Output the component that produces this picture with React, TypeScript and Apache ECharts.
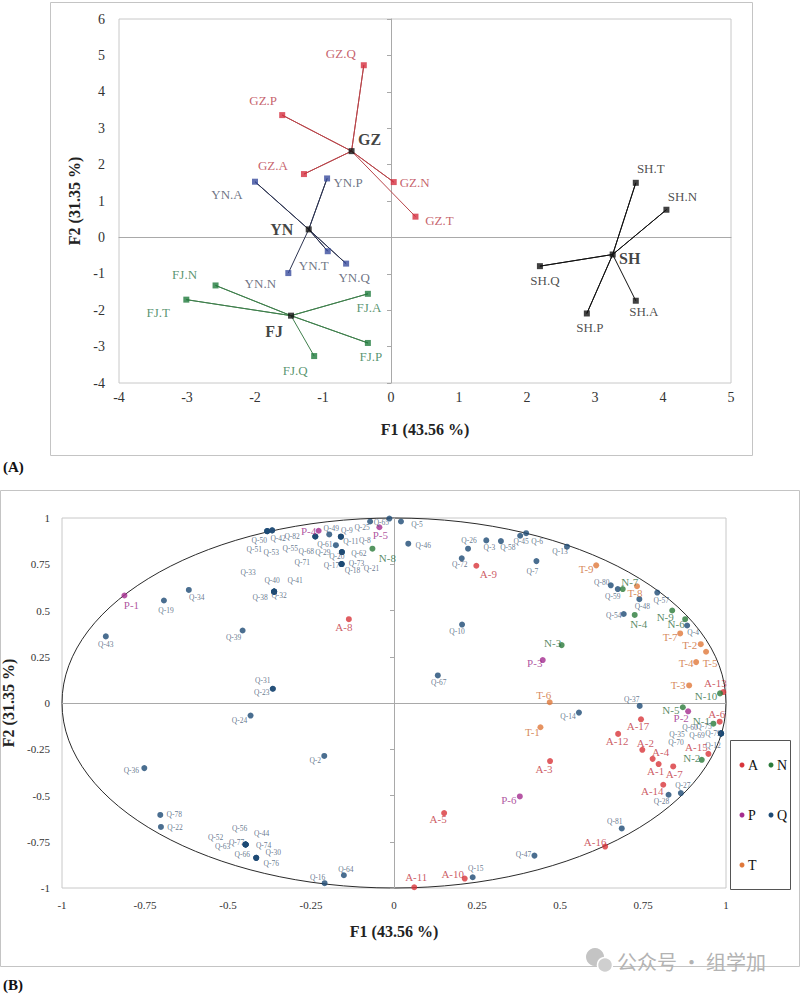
import { useEffect, useRef } from 'react';
import * as echarts from 'echarts';

const SERIF = "'Liberation Serif', 'Times New Roman', 'DejaVu Serif', serif";
const CJK = "'Noto Sans CJK SC', 'Noto Sans', sans-serif";

type Pt = [string, number, number];

// ---------- (A) group centroids and partial points ----------
const groupLabels = ['GZ', 'YN', 'FJ', 'SH'];
const groupCentroids: [number, number][] = [
  [-0.58, 2.37],
  [-1.21, 0.22],
  [-1.47, -2.15],
  [3.26, -0.47],
];
const gzPartials: Pt[] = [
  ['GZ.Q', -0.40, 4.73],
  ['GZ.P', -1.60, 3.36],
  ['GZ.A', -1.28, 1.74],
  ['GZ.N', 0.04, 1.52],
  ['GZ.T', 0.36, 0.57],
];
const ynPartials: Pt[] = [
  ['YN.A', -2.00, 1.53],
  ['YN.P', -0.94, 1.62],
  ['YN.T', -0.93, -0.38],
  ['YN.Q', -0.66, -0.72],
  ['YN.N', -1.51, -0.98],
];
const fjPartials: Pt[] = [
  ['FJ.N', -2.58, -1.32],
  ['FJ.T', -3.01, -1.71],
  ['FJ.A', -0.34, -1.55],
  ['FJ.P', -0.34, -2.90],
  ['FJ.Q', -1.13, -3.26],
];
const shPartials: Pt[] = [
  ['SH.T', 3.60, 1.50],
  ['SH.N', 4.05, 0.76],
  ['SH.Q', 2.19, -0.79],
  ['SH.P', 2.88, -2.09],
  ['SH.A', 3.60, -1.74],
];
const axisA = { xMin: -4, xMax: 5, yMin: -4, yMax: 6, step: 1 };

// ---------- (B) correlation circle of variables ----------
const varsA: Pt[] = [
  ['A-1', 0.797, -0.330], ['A-2', 0.748, -0.253], ['A-3', 0.470, -0.314],
  ['A-4', 0.779, -0.302], ['A-5', 0.151, -0.595], ['A-6', 0.981, -0.101],
  ['A-7', 0.841, -0.343], ['A-8', -0.136, 0.453], ['A-9', 0.248, 0.742],
  ['A-10', 0.213, -0.949], ['A-11', 0.061, -0.996], ['A-12', 0.675, -0.167],
  ['A-13', 0.992, 0.059], ['A-14', 0.811, -0.442], ['A-15', 0.947, -0.275],
  ['A-16', 0.636, -0.776], ['A-17', 0.744, -0.088],
];
const varsN: Pt[] = [
  ['N-1', 0.962, -0.112], ['N-2', 0.927, -0.307], ['N-3', 0.505, 0.313],
  ['N-4', 0.725, 0.476], ['N-5', 0.870, -0.023], ['N-6', 0.877, 0.453],
  ['N-7', 0.689, 0.616], ['N-8', -0.065, 0.834], ['N-9', 0.838, 0.500],
  ['N-10', 0.982, 0.052],
];
const varsP: Pt[] = [
  ['P-1', -0.812, 0.581], ['P-2', 0.886, -0.045], ['P-3', 0.448, 0.232],
  ['P-4', -0.227, 0.931], ['P-5', -0.044, 0.950], ['P-6', 0.379, -0.505],
];
const varsT: Pt[] = [
  ['T-1', 0.441, -0.131], ['T-2', 0.924, 0.318], ['T-3', 0.889, 0.095],
  ['T-4', 0.910, 0.221], ['T-5', 0.940, 0.277], ['T-6', 0.469, 0.004],
  ['T-7', 0.862, 0.376], ['T-8', 0.732, 0.631], ['T-9', 0.609, 0.744],
];
const varsQ: Pt[] = [
  ['Q-50', -0.382, 0.929], ['Q-51', -0.382, 0.929], ['Q-53', -0.382, 0.929],
  ['Q-42', -0.367, 0.933], ['Q-82', -0.367, 0.933],
  ['Q-55', -0.237, 0.900], ['Q-68', -0.237, 0.900], ['Q-71', -0.237, 0.900],
  ['Q-49', -0.195, 0.911],
  ['Q-9', -0.160, 0.899], ['Q-11', -0.160, 0.899], ['Q-8', -0.160, 0.899],
  ['Q-61', -0.175, 0.853],
  ['Q-29', -0.157, 0.816], ['Q-20', -0.157, 0.816], ['Q-62', -0.157, 0.816],
  ['Q-17', -0.158, 0.751], ['Q-73', -0.158, 0.751], ['Q-18', -0.158, 0.751], ['Q-21', -0.158, 0.751],
  ['Q-25', -0.072, 0.981], ['Q-65', -0.014, 0.997], ['Q-5', 0.021, 0.981], ['Q-46', 0.043, 0.861],
  ['Q-32', -0.361, 0.602], ['Q-38', -0.361, 0.602], ['Q-40', -0.361, 0.602],
  ['Q-41', -0.361, 0.602], ['Q-33', -0.361, 0.602],
  ['Q-19', -0.693, 0.554], ['Q-34', -0.618, 0.611], ['Q-43', -0.868, 0.360], ['Q-39', -0.456, 0.392],
  ['Q-23', -0.365, 0.077], ['Q-31', -0.365, 0.077],
  ['Q-24', -0.432, -0.068], ['Q-2', -0.210, -0.286], ['Q-36', -0.752, -0.352],
  ['Q-78', -0.704, -0.605], ['Q-22', -0.702, -0.670],
  ['Q-56', -0.447, -0.765], ['Q-44', -0.447, -0.765], ['Q-52', -0.447, -0.765],
  ['Q-63', -0.447, -0.765], ['Q-77', -0.447, -0.765], ['Q-74', -0.447, -0.765],
  ['Q-66', -0.415, -0.837], ['Q-30', -0.415, -0.837], ['Q-76', -0.415, -0.837],
  ['Q-64', -0.151, -0.931], ['Q-16', -0.209, -0.974],
  ['Q-26', 0.223, 0.834], ['Q-3', 0.278, 0.879], ['Q-58', 0.322, 0.875],
  ['Q-45', 0.380, 0.904], ['Q-6', 0.398, 0.918], ['Q-13', 0.521, 0.845],
  ['Q-72', 0.204, 0.782], ['Q-7', 0.429, 0.767],
  ['Q-80', 0.653, 0.636], ['Q-59', 0.674, 0.616], ['Q-48', 0.739, 0.561],
  ['Q-57', 0.793, 0.597], ['Q-54', 0.692, 0.481], ['Q-4', 0.883, 0.419],
  ['Q-10', 0.205, 0.424], ['Q-67', 0.132, 0.149], ['Q-37', 0.740, -0.016], ['Q-14', 0.557, -0.052],
  ['Q-60', 0.985, -0.165], ['Q-75', 0.985, -0.165], ['Q-35', 0.985, -0.165],
  ['Q-69', 0.985, -0.165], ['Q-70', 0.985, -0.165], ['Q-79', 0.985, -0.165], ['Q-12', 0.985, -0.165],
  ['Q-28', 0.827, -0.496], ['Q-27', 0.864, -0.487], ['Q-81', 0.686, -0.678],
  ['Q-47', 0.423, -0.825], ['Q-15', 0.237, -0.942],
];
const axisB = { min: -1, max: 1, step: 0.25 };

// label placement (pixel nudges from each marker's centre)
const nudgeA: Record<string, [number, number]> = {
  'GZ.Q': [-23, -12], 'GZ.P': [-19, -15], 'GZ.A': [-31, -9], 'GZ.N': [21, 0], 'GZ.T': [24, 4],
  'YN.A': [-28, 13], 'YN.P': [21, 4], 'YN.T': [-14, 14], 'YN.Q': [8, 14], 'YN.N': [-28, 10],
  'FJ.N': [-31, -11], 'FJ.T': [-28, 13], 'FJ.A': [1, 14], 'FJ.P': [3, 14], 'FJ.Q': [-19, 14],
  'SH.T': [15, -14], 'SH.N': [16, -13], 'SH.Q': [5, 14], 'SH.P': [3, 14], 'SH.A': [8, 11],
  GZ: [18, -12], YN: [-27, 0], FJ: [-17, 16], SH: [17, 4],
};
const nudgeB: Record<string, [number, number]> = {
  'A-1': [-3, 7], 'A-2': [3, -7], 'A-3': [-6, 8], 'A-4': [8, -7], 'A-5': [-6, 6], 'A-6': [-3, -8],
  'A-7': [1, 8], 'A-8': [-5, 8], 'A-9': [12, 8], 'A-10': [-12, -5], 'A-11': [2, -10], 'A-12': [-1, 7],
  'A-13': [-8, -9], 'A-14': [-11, 6], 'A-15': [-12, -7], 'A-16': [-10, -5], 'A-17': [-3, 7],
  'N-1': [-12, -3], 'N-2': [-10, -2], 'N-3': [-9, -2], 'N-4': [4, 9], 'N-5': [-12, 3],
  'N-6': [-9, 5], 'N-7': [7, -7], 'N-8': [15, 9], 'N-9': [-7, 6], 'N-10': [-14, 3],
  'P-1': [7, 9], 'P-2': [-7, 7], 'P-3': [-8, 3], 'P-4': [-10, 0], 'P-5': [1, 8], 'P-6': [-11, 4],
  'T-1': [-8, 5], 'T-2': [-11, 1], 'T-3': [-11, 0], 'T-4': [-10, 1], 'T-5': [4, 11],
  'T-6': [-6, -7], 'T-7': [-10, 4], 'T-8': [-2, 7], 'T-9': [-10, 4],
  'Q-50': [-8, 9], 'Q-42': [6, 8], 'Q-82': [20, 6], 'Q-51': [-13, 18], 'Q-53': [4, 21],
  'Q-55': [-25, 12], 'Q-68': [-9, 15], 'Q-71': [-13, 26], 'Q-49': [2, -6], 'Q-9': [6, -6],
  'Q-11': [10, 5], 'Q-8': [24, 4], 'Q-61': [-11, -1], 'Q-29': [-19, 0], 'Q-20': [-5, 4],
  'Q-62': [17, 1], 'Q-17': [-10, 1], 'Q-73': [15, -1], 'Q-18': [11, 6], 'Q-21': [30, 4],
  'Q-25': [-8, 6], 'Q-65': [-8, 4], 'Q-5': [16, 3], 'Q-46': [15, 2],
  'Q-33': [-26, -19], 'Q-40': [-2, -11], 'Q-41': [21, -11], 'Q-38': [-14, 6], 'Q-32': [5, 4],
  'Q-19': [2, 10], 'Q-34': [8, 8], 'Q-43': [0, 8], 'Q-39': [-9, 7],
  'Q-31': [-10, -8], 'Q-23': [-11, 4], 'Q-24': [-11, 5], 'Q-2': [-9, 5], 'Q-36': [-13, 2],
  'Q-78': [14, 0], 'Q-22': [14, 1],
  'Q-56': [-6, -16], 'Q-44': [16, -11], 'Q-52': [-30, -7], 'Q-63': [-23, 2], 'Q-77': [-9, -2], 'Q-74': [18, 1],
  'Q-66': [-14, -3], 'Q-30': [17, -5], 'Q-76': [15, 6],
  'Q-64': [2, -6], 'Q-16': [-7, -6],
  'Q-26': [1, -8], 'Q-3': [3, 7], 'Q-58': [7, 6], 'Q-45': [1, 6], 'Q-6': [11, 8], 'Q-13': [-7, 5],
  'Q-72': [-2, 6], 'Q-7': [-4, 10], 'Q-80': [-9, -3], 'Q-59': [-5, 7], 'Q-48': [3, 7],
  'Q-57': [4, 8], 'Q-54': [-10, 1], 'Q-4': [6, 7], 'Q-10': [-5, 7], 'Q-67': [1, 7],
  'Q-37': [-8, -6], 'Q-14': [-11, 4],
  'Q-60': [-31, -6], 'Q-75': [-17, -7], 'Q-35': [-44, 1], 'Q-69': [-24, 2], 'Q-70': [-45, 9],
  'Q-79': [-8, 0], 'Q-12': [-8, 12],
  'Q-28': [-7, 7], 'Q-27': [2, -8], 'Q-81': [-7, -7], 'Q-47': [-11, -1], 'Q-15': [3, -9],
};

const groupStyle = [
  { dot: '#d42e3e', line: '#b8454a', text: '#b83a48' },
  { dot: '#3a4c9e', line: '#2c3350', text: '#4a5266' },
  { dot: '#1f7a3c', line: '#3f7f4c', text: '#2f7a4c' },
  { dot: '#111111', line: '#111111', text: '#222222' },
];
const classStyle: Record<string, { dot: string; text: string; size: number }> = {
  A: { dot: '#d8343a', text: '#c0323c', size: 11 },
  N: { dot: '#2a7a3a', text: '#2e6c3c', size: 11 },
  P: { dot: '#a42c8e', text: '#9a2a88', size: 11 },
  Q: { dot: '#1d4a74', text: '#3e5672', size: 7.5 },
  T: { dot: '#e0783a', text: '#cc6a30', size: 11 },
};

function items(pts: Pt[], nudge: Record<string, [number, number]>) {
  return pts.map(([name, x, y]) => ({
    name,
    value: [x, y],
    label: { offset: nudge[name] || [0, 8] },
  }));
}

function star(center: [number, number], pts: Pt[]) {
  const out: [number, number][] = [];
  pts.forEach(([, x, y]) => {
    out.push(center, [x, y]);
  });
  return out;
}

export default function App() {
  const ref = useRef<HTMLDivElement>(null);

  useEffect(() => {
    if (!ref.current) return;
    const chart = echarts.init(ref.current, undefined, { renderer: 'svg' });

    const partialGroups = [gzPartials, ynPartials, fjPartials, shPartials];

    const seriesA: any[] = [];
    partialGroups.forEach((pts, gi) => {
      seriesA.push({
        type: 'line',
        xAxisIndex: 0,
        yAxisIndex: 0,
        data: star(groupCentroids[gi], pts),
        symbol: 'none',
        lineStyle: { color: groupStyle[gi].line, width: 1 },
        silent: true,
        z: 2,
      });
    });
    partialGroups.forEach((pts, gi) => {
      seriesA.push({
        type: 'scatter',
        xAxisIndex: 0,
        yAxisIndex: 0,
        data: items(pts, nudgeA),
        symbol: 'rect',
        symbolSize: 6,
        itemStyle: { color: groupStyle[gi].dot },
        label: {
          show: true,
          position: 'inside',
          formatter: '{b}',
          fontFamily: SERIF,
          fontSize: 13,
          color: groupStyle[gi].text,
        },
        z: 3,
      });
    });
    seriesA.push({
      type: 'scatter',
      xAxisIndex: 0,
      yAxisIndex: 0,
      data: groupLabels.map((g, i) => ({
        name: g,
        value: groupCentroids[i],
        label: { offset: nudgeA[g] },
      })),
      symbol: 'rect',
      symbolSize: 6,
      itemStyle: { color: '#111' },
      label: {
        show: true,
        position: 'inside',
        formatter: '{b}',
        fontFamily: SERIF,
        fontSize: 16,
        fontWeight: 'bold',
        color: '#111',
      },
      z: 4,
    });

    const classes: [string, Pt[]][] = [
      ['Q', varsQ],
      ['A', varsA],
      ['N', varsN],
      ['P', varsP],
      ['T', varsT],
    ];
    const seriesB = classes.map(([cls, pts]) => ({
      type: 'scatter',
      name: cls,
      xAxisIndex: 2,
      yAxisIndex: 2,
      data: items(pts, nudgeB),
      symbol: 'circle',
      symbolSize: 6,
      itemStyle: { color: classStyle[cls].dot },
      label: {
        show: true,
        position: 'inside',
        formatter: '{b}',
        fontFamily: SERIF,
        fontSize: classStyle[cls].size,
        color: classStyle[cls].text,
      },
      z: 3,
    }));

    const labelAxis = (grid: number, min: number, max: number, step: number, fs: number, margin: number, name: string, gap: number, dim: 'x' | 'y') => ({
      gridIndex: grid,
      type: 'value',
      min,
      max,
      interval: step,
      position: dim === 'x' ? 'bottom' : 'left',
      axisLine: { show: false, onZero: false },
      axisTick: { show: false },
      splitLine: { show: false },
      axisLabel: { fontFamily: SERIF, fontSize: fs, color: '#333', margin },
      name,
      nameLocation: 'middle',
      nameGap: gap,
      nameRotate: dim === 'y' ? 90 : 0,
      nameTextStyle: { fontFamily: SERIF, fontSize: 16, fontWeight: 'bold', color: '#222' },
    });
    const zeroAxis = (grid: number, min: number, max: number, step: number, dim: 'x' | 'y') => ({
      gridIndex: grid,
      type: 'value',
      min,
      max,
      interval: step,
      position: dim === 'x' ? 'bottom' : 'left',
      axisLine: { show: true, onZero: true, lineStyle: { color: '#a9a9a9', width: 1 } },
      axisTick: dim === 'y' ? { show: true, length: 4, lineStyle: { color: '#a9a9a9' } } : { show: false },
      axisLabel: { show: false },
      splitLine: { show: false },
    });

    const legendEntries: [string, number, number][] = [
      ['A', 742, 765],
      ['N', 771, 765],
      ['P', 742, 815],
      ['Q', 771, 815],
      ['T', 742, 865],
    ];

    const staticGraphics: any[] = [
      { type: 'rect', shape: { x: 50.5, y: 2.5, width: 702, height: 453 }, style: { fill: 'none', stroke: '#c4c4c4', lineWidth: 1 }, silent: true },
      { type: 'rect', shape: { x: 0.5, y: 490.5, width: 799, height: 476 }, style: { fill: 'none', stroke: '#c4c4c4', lineWidth: 1 }, silent: true },
      { type: 'text', x: 3, y: 467, style: { text: '(A)', fontFamily: SERIF, fontSize: 15, fontWeight: 'bold', fill: '#111', verticalAlign: 'middle' } },
      { type: 'text', x: 3, y: 985, style: { text: '(B)', fontFamily: SERIF, fontSize: 15, fontWeight: 'bold', fill: '#111', verticalAlign: 'middle' } },
      { type: 'rect', shape: { x: 730.5, y: 740.5, width: 60, height: 149 }, style: { fill: '#fff', stroke: '#555', lineWidth: 1 }, z: 10 },
      ...legendEntries.flatMap(([cls, x, y]) => [
        { type: 'circle', shape: { cx: x, cy: y, r: 2.5 }, style: { fill: classStyle[cls].dot }, z: 11 },
        { type: 'text', x: x + 6, y, style: { text: cls, fontFamily: SERIF, fontSize: 14, fill: '#111', verticalAlign: 'middle' }, z: 11 },
      ]),
      // account watermark
      { type: 'circle', shape: { cx: 595, cy: 957, r: 9 }, style: { fill: '#c4c4c4' }, z: 10 },
      { type: 'circle', shape: { cx: 605, cy: 965, r: 7.5 }, style: { fill: '#cfcfcf', stroke: '#fff', lineWidth: 1.5 }, z: 11 },
      { type: 'text', x: 617, y: 961, style: { text: '公众号 · 组学加', fontFamily: CJK, fontSize: 20, fill: '#b3b3b3', verticalAlign: 'middle' }, z: 11 },
    ];

    chart.setOption({
      animation: false,
      backgroundColor: '#ffffff',
      textStyle: { fontFamily: SERIF },
      grid: [
        { left: 119, top: 19, width: 612, height: 364, show: true, borderColor: '#c8c8c8', borderWidth: 1, backgroundColor: 'transparent', outerBoundsMode: 'none' },
        { left: 62, top: 518, width: 664, height: 370, show: true, borderColor: '#c8c8c8', borderWidth: 1, backgroundColor: 'transparent', outerBoundsMode: 'none' },
      ],
      xAxis: [
        labelAxis(0, axisA.xMin, axisA.xMax, axisA.step, 14, 7, 'F1 (43.56 %)', 38, 'x'),
        zeroAxis(0, axisA.xMin, axisA.xMax, axisA.step, 'x'),
        labelAxis(1, axisB.min, axisB.max, axisB.step, 11, 11, 'F1 (43.56 %)', 35, 'x'),
        zeroAxis(1, axisB.min, axisB.max, axisB.step, 'x'),
      ],
      yAxis: [
        labelAxis(0, axisA.yMin, axisA.yMax, axisA.step, 14, 14, 'F2 (31.35 %)', 36, 'y'),
        zeroAxis(0, axisA.yMin, axisA.yMax, axisA.step, 'y'),
        labelAxis(1, axisB.min, axisB.max, axisB.step, 11, 12, 'F2 (31.35 %)', 36, 'y'),
        zeroAxis(1, axisB.min, axisB.max, axisB.step, 'y'),
      ],
      series: [...seriesA, ...seriesB],
      graphic: staticGraphics,
    });

    // unit correlation circle, placed through panel B's own scales
    const bIndex = seriesA.length;
    const c = chart.convertToPixel({ seriesIndex: bIndex }, [0, 0]) as number[];
    const e = chart.convertToPixel({ seriesIndex: bIndex }, [1, 1]) as number[];
    if (c && e) {
      chart.setOption({
        graphic: [
          ...staticGraphics,
          {
            type: 'ellipse',
            shape: { cx: c[0], cy: c[1], rx: Math.abs(e[0] - c[0]), ry: Math.abs(c[1] - e[1]) },
            style: { fill: 'none', stroke: '#2b2b2b', lineWidth: 1 },
            silent: true,
            z: 0,
          },
        ],
      });
    }

    return () => chart.dispose();
  }, []);

  return (
    <div
      ref={ref}
      style={{ position: 'absolute', left: 0, top: 0, width: 800, height: 996, background: '#fff' }}
    />
  );
}
